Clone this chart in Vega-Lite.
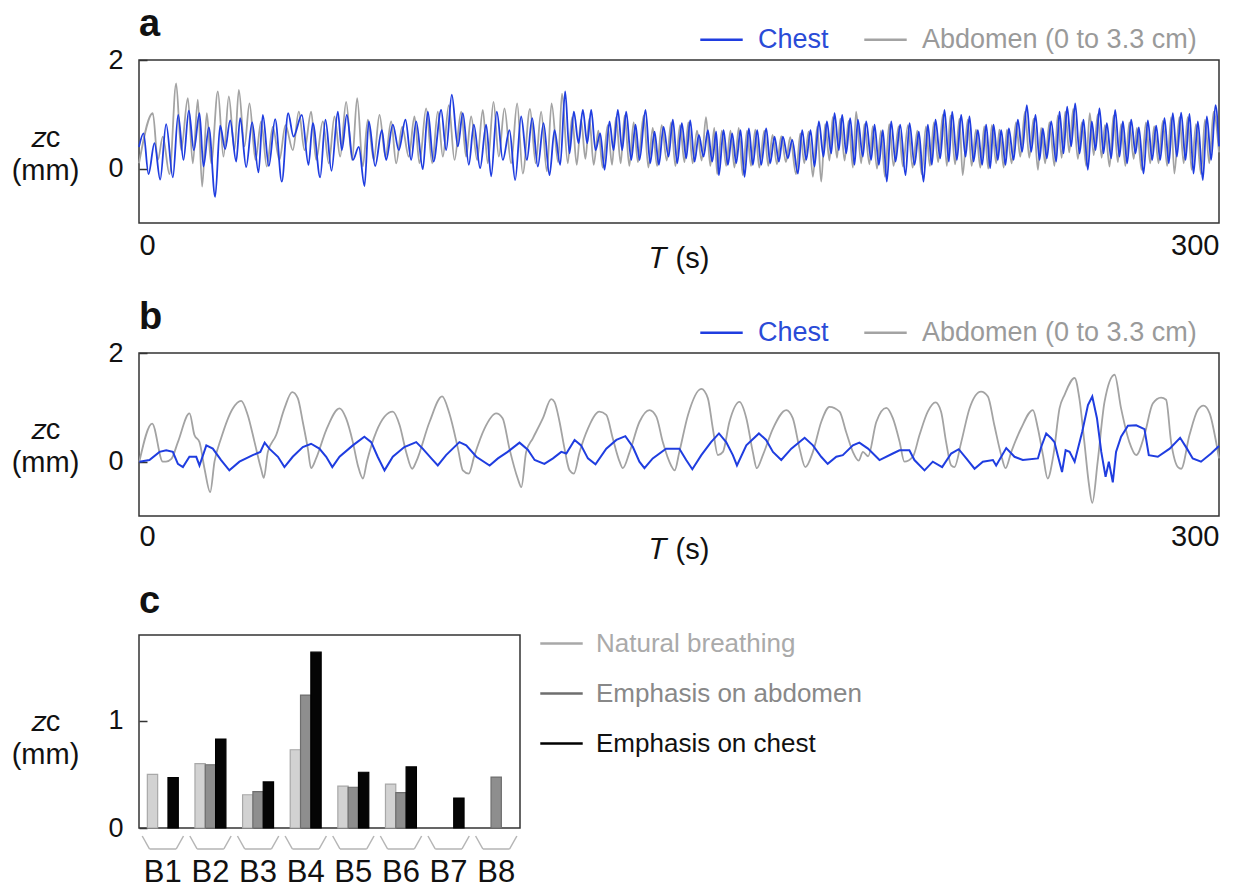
{
"$schema": "https://vega.github.io/schema/vega-lite/v6.json",
"background": "white",
"padding": {"left": 10, "top": 5, "right": 0, "bottom": 0},
"config": {
  "font": "Liberation Sans",
  "view": {"stroke": "#333", "strokeWidth": 1.5},
  "axis": {"grid": false, "domain": false, "labelFont": "Liberation Sans", "titleFont": "Liberation Sans", "labelColor": "#111", "titleColor": "#111", "titleFontWeight": "normal", "tickColor": "#333", "tickWidth": 1.5},
  "legend": {"labelFont": "Liberation Sans", "labelLimit": 500},
  "title": {"anchor": "start", "frame": "group", "fontSize": 38, "fontWeight": "bold", "color": "#111", "font": "Liberation Sans"}
},
"datasets": {
"aChest": [{"t":0,"v":0.40},{"t":1.25,"v":0.65},{"t":2.64,"v":-0.10},{"t":4.30,"v":0.47},{"t":5.88,"v":-0.20},{"t":7.54,"v":0.82},{"t":9.40,"v":-0.16},{"t":10.88,"v":0.99},{"t":12.36,"v":0.16},{"t":13.84,"v":1.07},{"t":15.23,"v":0.34},{"t":16.80,"v":1.02},{"t":17.91,"v":0.04},{"t":19.40,"v":0.76},{"t":21.16,"v":-0.52},{"t":22.54,"v":0.79},{"t":23.93,"v":0.36},{"t":25.32,"v":0.89},{"t":26.99,"v":0.13},{"t":28.10,"v":0.93},{"t":29.77,"v":0.03},{"t":31.43,"v":0.85},{"t":33.19,"v":-0.07},{"t":34.40,"v":0.99},{"t":36.06,"v":0.05},{"t":37.82,"v":0.91},{"t":39.67,"v":-0.24},{"t":41.43,"v":1.02},{"t":42.91,"v":0.59},{"t":45.23,"v":0.99},{"t":47.08,"v":0.07},{"t":48.28,"v":0.84},{"t":50.32,"v":-0.16},{"t":51.80,"v":0.90},{"t":53.47,"v":-0.04},{"t":55.23,"v":1.05},{"t":56.34,"v":0.34},{"t":57.73,"v":0.99},{"t":59.40,"v":0.16},{"t":61.06,"v":0.40},{"t":62.64,"v":-0.32},{"t":63.84,"v":0.87},{"t":65.60,"v":0.05},{"t":67.45,"v":0.71},{"t":68.65,"v":0.16},{"t":70.51,"v":0.81},{"t":72.17,"v":0.34},{"t":74.02,"v":0.90},{"t":75.60,"v":0.16},{"t":76.99,"v":0.87},{"t":78.84,"v":-0.01},{"t":80.23,"v":1.05},{"t":81.80,"v":0.13},{"t":83.93,"v":1.08},{"t":85.32,"v":0.34},{"t":86.89,"v":1.36},{"t":88.56,"v":0.41},{"t":89.95,"v":1.02},{"t":91.62,"v":0.07},{"t":93.01,"v":0.81},{"t":94.76,"v":0.01},{"t":96.43,"v":0.81},{"t":97.82,"v":-0.14},{"t":99.39,"v":1.05},{"t":101.06,"v":0.16},{"t":102.91,"v":0.71},{"t":104.49,"v":-0.21},{"t":106.15,"v":0.96},{"t":107.74,"v":0.16},{"t":109.22,"v":0.93},{"t":110.79,"v":0.04},{"t":112.37,"v":0.84},{"t":114.03,"v":-0.12},{"t":115.42,"v":0.71},{"t":117.00,"v":0.07},{"t":118.38,"v":1.42},{"t":119.59,"v":0.28},{"t":120.79,"v":1.05},{"t":122.09,"v":0.47},{"t":123.29,"v":1.08},{"t":124.50,"v":0.47},{"t":125.61,"v":1.08},{"t":126.81,"v":0.34},{"t":128.11,"v":0.65},{"t":129.31,"v":-0.02},{"t":130.70,"v":0.87},{"t":131.81,"v":0.34},{"t":133.01,"v":1.08},{"t":134.22,"v":0.34},{"t":135.33,"v":1.05},{"t":136.72,"v":0.16},{"t":137.92,"v":0.81},{"t":139.03,"v":0.16},{"t":140.70,"v":1.08},{"t":141.99,"v":0.10},{"t":143.20,"v":0.68},{"t":144.40,"v":0.07},{"t":145.70,"v":0.77},{"t":147.09,"v":0.22},{"t":148.29,"v":0.90},{"t":149.50,"v":0.10},{"t":150.79,"v":0.84},{"t":151.99,"v":0.19},{"t":153.11,"v":0.89},{"t":154.31,"v":0.13},{"t":155.51,"v":0.62},{"t":156.81,"v":0.22},{"t":158.01,"v":0.71},{"t":159.22,"v":0.13},{"t":160.33,"v":0.68},{"t":161.07,"v":-0.12},{"t":162.37,"v":0.71},{"t":163.57,"v":0.07},{"t":164.77,"v":0.65},{"t":165.88,"v":0.10},{"t":167.09,"v":0.71},{"t":168.20,"v":-0.15},{"t":169.40,"v":0.74},{"t":170.51,"v":0.07},{"t":171.72,"v":0.71},{"t":172.83,"v":0.07},{"t":174.22,"v":0.74},{"t":175.33,"v":0.10},{"t":176.53,"v":0.59},{"t":177.74,"v":0.13},{"t":178.85,"v":0.59},{"t":180.23,"v":0.19},{"t":181.44,"v":0.53},{"t":183.01,"v":-0.09},{"t":184.22,"v":0.71},{"t":185.33,"v":0.16},{"t":186.53,"v":0.71},{"t":187.64,"v":0.04},{"t":188.85,"v":0.87},{"t":190.14,"v":0.22},{"t":191.07,"v":0.87},{"t":192.27,"v":0.28},{"t":193.20,"v":1.02},{"t":194.40,"v":0.34},{"t":195.33,"v":0.99},{"t":196.44,"v":0.28},{"t":197.55,"v":0.93},{"t":198.75,"v":0.07},{"t":199.68,"v":0.90},{"t":201.07,"v":0.22},{"t":201.99,"v":0.87},{"t":203.38,"v":0.16},{"t":204.31,"v":0.81},{"t":205.51,"v":0.07},{"t":206.62,"v":0.71},{"t":207.73,"v":-0.24},{"t":208.94,"v":0.87},{"t":210.14,"v":0.13},{"t":211.44,"v":0.81},{"t":212.92,"v":-0.12},{"t":214.03,"v":0.84},{"t":215.42,"v":0.07},{"t":216.62,"v":0.68},{"t":217.92,"v":-0.24},{"t":219.12,"v":0.81},{"t":220.23,"v":0.07},{"t":221.25,"v":0.90},{"t":222.55,"v":0.19},{"t":223.75,"v":1.08},{"t":224.95,"v":0.13},{"t":225.88,"v":1.05},{"t":227.18,"v":0.16},{"t":228.38,"v":0.99},{"t":229.58,"v":0.22},{"t":230.69,"v":0.96},{"t":231.80,"v":0.13},{"t":233.01,"v":0.71},{"t":234.21,"v":0.07},{"t":235.32,"v":0.81},{"t":236.43,"v":0.01},{"t":237.36,"v":0.81},{"t":238.56,"v":0.16},{"t":239.49,"v":0.71},{"t":240.69,"v":0.07},{"t":241.62,"v":0.74},{"t":242.92,"v":0.16},{"t":244.12,"v":0.90},{"t":245.32,"v":0.31},{"t":246.62,"v":1.17},{"t":247.82,"v":0.31},{"t":249.03,"v":0.99},{"t":250.14,"v":0.16},{"t":251.06,"v":0.74},{"t":252.17,"v":0.19},{"t":253.38,"v":0.87},{"t":254.77,"v":0.13},{"t":255.69,"v":1.05},{"t":256.80,"v":0.28},{"t":257.82,"v":1.14},{"t":258.93,"v":0.41},{"t":260.05,"v":1.20},{"t":261.25,"v":0.28},{"t":262.36,"v":0.90},{"t":263.56,"v":-0.02},{"t":264.67,"v":0.87},{"t":265.69,"v":0.34},{"t":266.80,"v":1.11},{"t":267.91,"v":0.28},{"t":268.84,"v":0.84},{"t":270.04,"v":0.19},{"t":271.16,"v":1.08},{"t":272.36,"v":0.22},{"t":273.29,"v":0.87},{"t":274.49,"v":0.10},{"t":275.60,"v":0.90},{"t":276.80,"v":0.28},{"t":277.73,"v":0.76},{"t":279.03,"v":-0.09},{"t":280.23,"v":0.89},{"t":281.43,"v":0.16},{"t":282.54,"v":0.79},{"t":283.66,"v":0.16},{"t":284.86,"v":0.93},{"t":286.06,"v":0.10},{"t":287.17,"v":1.02},{"t":288.29,"v":0.22},{"t":289.49,"v":1.03},{"t":290.69,"v":0.16},{"t":291.80,"v":1.01},{"t":292.92,"v":-0.09},{"t":294.12,"v":0.87},{"t":295.51,"v":-0.21},{"t":296.62,"v":0.96},{"t":297.82,"v":0.16},{"t":299.03,"v":1.17},{"t":300.0,"v":0.41}],
"aAbd": [{"t":0,"v":0.10},{"t":3.84,"v":1.02},{"t":5.23,"v":0.16},{"t":6.62,"v":0.59},{"t":8.47,"v":-0.10},{"t":10.32,"v":1.57},{"t":11.71,"v":0.34},{"t":13.56,"v":1.30},{"t":14.95,"v":0.10},{"t":16.34,"v":1.27},{"t":17.54,"v":-0.33},{"t":18.84,"v":1.02},{"t":20.04,"v":0.10},{"t":21.90,"v":1.42},{"t":23.47,"v":0.22},{"t":24.95,"v":1.33},{"t":26.53,"v":0.34},{"t":27.73,"v":1.45},{"t":29.30,"v":0.41},{"t":30.69,"v":1.20},{"t":32.36,"v":0.16},{"t":33.93,"v":0.87},{"t":35.50,"v":0.04},{"t":37.17,"v":0.77},{"t":39.00,"v":0.16},{"t":40.69,"v":0.80},{"t":42.73,"v":0.34},{"t":44.40,"v":1.05},{"t":45.97,"v":0.34},{"t":47.82,"v":1.05},{"t":49.21,"v":0.16},{"t":51.06,"v":0.87},{"t":52.73,"v":0.10},{"t":54.30,"v":0.96},{"t":55.88,"v":0.22},{"t":57.54,"v":1.23},{"t":59.21,"v":0.16},{"t":60.60,"v":1.30},{"t":62.17,"v":0.04},{"t":63.56,"v":0.90},{"t":65.23,"v":0.16},{"t":66.80,"v":0.99},{"t":68.47,"v":0.22},{"t":70.04,"v":0.87},{"t":71.43,"v":0.10},{"t":73.10,"v":0.77},{"t":74.95,"v":0.22},{"t":76.52,"v":0.96},{"t":77.91,"v":0.10},{"t":79.76,"v":1.11},{"t":81.43,"v":0.10},{"t":83.00,"v":1.05},{"t":84.40,"v":0.22},{"t":86.06,"v":1.17},{"t":87.63,"v":0.16},{"t":89.49,"v":1.05},{"t":90.87,"v":0.22},{"t":92.26,"v":0.96},{"t":93.93,"v":0.16},{"t":95.50,"v":1.08},{"t":96.89,"v":0.10},{"t":98.47,"v":1.23},{"t":99.95,"v":0.22},{"t":101.52,"v":1.11},{"t":103.37,"v":0.10},{"t":105.04,"v":1.20},{"t":106.6,"v":-0.09},{"t":108.6,"v":1.10},{"t":110.2,"v":0.10},{"t":111.7,"v":1.05},{"t":113.3,"v":-0.05},{"t":114.6,"v":1.20},{"t":116.4,"v":0.12},{"t":117.5,"v":1.38},{"t":119.1,"v":0.10},{"t":120.3,"v":0.95},{"t":121.6,"v":0.07},{"t":122.8,"v":0.90},{"t":124.0,"v":0.18},{"t":125.1,"v":0.92},{"t":126.3,"v":0.07},{"t":127.6,"v":0.70},{"t":128.8,"v":0.02},{"t":130.2,"v":0.80},{"t":131.4,"v":0.07},{"t":132.5,"v":0.95},{"t":133.8,"v":0.10},{"t":134.9,"v":0.98},{"t":136.2,"v":0.05},{"t":137.4,"v":0.85},{"t":138.6,"v":0.12},{"t":140.2,"v":0.98},{"t":141.5,"v":0.02},{"t":142.7,"v":0.75},{"t":143.9,"v":0.05},{"t":145.2,"v":0.80},{"t":146.6,"v":0.15},{"t":147.8,"v":0.85},{"t":149.0,"v":0.05},{"t":150.3,"v":0.80},{"t":151.5,"v":0.12},{"t":152.6,"v":0.85},{"t":153.8,"v":0.10},{"t":155.0,"v":0.70},{"t":156.3,"v":0.15},{"t":157.5,"v":0.95},{"t":158.7,"v":0.05},{"t":159.8,"v":0.75},{"t":160.6,"v":-0.10},{"t":161.9,"v":0.70},{"t":163.1,"v":0.05},{"t":164.3,"v":0.70},{"t":165.4,"v":0.02},{"t":166.6,"v":0.75},{"t":167.7,"v":-0.12},{"t":168.9,"v":0.70},{"t":170.0,"v":0.05},{"t":171.2,"v":0.72},{"t":172.3,"v":0.02},{"t":173.7,"v":0.70},{"t":174.8,"v":0.05},{"t":176.0,"v":0.62},{"t":177.2,"v":0.08},{"t":178.4,"v":0.60},{"t":179.7,"v":0.12},{"t":180.9,"v":0.58},{"t":182.5,"v":-0.10},{"t":183.7,"v":0.65},{"t":184.8,"v":0.10},{"t":186.0,"v":0.68},{"t":187.2,"v":-0.15},{"t":188.4,"v":0.78},{"t":189.5,"v":-0.24},{"t":190.6,"v":0.82},{"t":191.8,"v":0.15},{"t":192.7,"v":0.95},{"t":193.9,"v":0.20},{"t":194.8,"v":0.92},{"t":196.0,"v":0.15},{"t":197.1,"v":0.88},{"t":198.3,"v":0.02},{"t":199.2,"v":1.05},{"t":200.6,"v":0.10},{"t":201.5,"v":0.82},{"t":202.9,"v":0.08},{"t":203.8,"v":0.78},{"t":205.0,"v":0.00},{"t":206.1,"v":0.70},{"t":207.2,"v":-0.15},{"t":208.4,"v":0.82},{"t":209.6,"v":0.05},{"t":211.0,"v":0.78},{"t":212.2,"v":0.04},{"t":213.6,"v":0.80},{"t":214.9,"v":0.02},{"t":216.2,"v":0.70},{"t":217.4,"v":-0.10},{"t":218.6,"v":0.78},{"t":219.7,"v":0.05},{"t":220.8,"v":0.85},{"t":222.0,"v":0.12},{"t":223.3,"v":1.00},{"t":224.4,"v":0.05},{"t":225.4,"v":0.98},{"t":226.7,"v":0.08},{"t":227.9,"v":0.92},{"t":228.8,"v":-0.12},{"t":230.2,"v":0.90},{"t":231.3,"v":0.05},{"t":232.5,"v":0.72},{"t":233.7,"v":0.02},{"t":234.8,"v":0.78},{"t":235.9,"v":0.00},{"t":236.9,"v":0.80},{"t":238.1,"v":0.10},{"t":239.0,"v":0.72},{"t":240.2,"v":0.02},{"t":241.1,"v":0.72},{"t":242.4,"v":0.10},{"t":243.6,"v":0.85},{"t":244.8,"v":0.22},{"t":246.1,"v":1.05},{"t":247.3,"v":0.20},{"t":248.5,"v":0.92},{"t":249.7,"v":-0.02},{"t":250.6,"v":0.75},{"t":251.7,"v":0.10},{"t":252.9,"v":0.85},{"t":254.3,"v":0.05},{"t":255.2,"v":0.98},{"t":256.3,"v":0.20},{"t":257.3,"v":1.05},{"t":258.4,"v":0.30},{"t":259.5,"v":1.10},{"t":260.8,"v":0.18},{"t":261.9,"v":0.85},{"t":263.1,"v":0.05},{"t":264.1,"v":1.02},{"t":265.2,"v":0.25},{"t":266.3,"v":1.00},{"t":267.4,"v":0.20},{"t":268.3,"v":0.80},{"t":269.6,"v":0.04},{"t":270.7,"v":0.98},{"t":271.9,"v":0.12},{"t":272.8,"v":0.82},{"t":274.0,"v":0.05},{"t":275.1,"v":0.85},{"t":276.3,"v":0.18},{"t":277.2,"v":0.75},{"t":278.5,"v":-0.02},{"t":279.7,"v":0.85},{"t":280.9,"v":0.10},{"t":282.0,"v":0.78},{"t":283.2,"v":0.10},{"t":284.4,"v":0.88},{"t":285.6,"v":0.05},{"t":286.7,"v":0.95},{"t":287.6,"v":-0.09},{"t":289.0,"v":0.95},{"t":290.2,"v":0.10},{"t":291.3,"v":0.95},{"t":292.4,"v":-0.02},{"t":293.6,"v":0.82},{"t":295.0,"v":-0.10},{"t":296.1,"v":0.90},{"t":297.3,"v":0.10},{"t":298.5,"v":1.05},{"t":300.0,"v":0.30}],
"bChest": [{"t":0.1,"v":0.0},{"t":2.9,"v":0.03},{"t":5.7,"v":0.18},{"t":7.55,"v":0.21},{"t":9.4,"v":0.18},{"t":10.8,"v":-0.04},{"t":12.2,"v":-0.10},{"t":14.0,"v":0.09},{"t":15.9,"v":0.09},{"t":16.8,"v":-0.07},{"t":18.7,"v":0.30},{"t":20.5,"v":0.24},{"t":22.8,"v":0.03},{"t":25.1,"v":-0.16},{"t":27.9,"v":0.0},{"t":31.6,"v":0.12},{"t":33.7,"v":0.18},{"t":34.9,"v":0.35},{"t":36.2,"v":0.24},{"t":38.6,"v":0.09},{"t":40.4,"v":-0.10},{"t":42.7,"v":0.09},{"t":45.5,"v":0.27},{"t":47.8,"v":0.33},{"t":50.1,"v":0.24},{"t":52.0,"v":0.09},{"t":53.7,"v":-0.10},{"t":55.7,"v":0.09},{"t":59.4,"v":0.30},{"t":62.6,"v":0.46},{"t":64.5,"v":0.36},{"t":66.3,"v":0.09},{"t":68.2,"v":-0.16},{"t":70.5,"v":0.09},{"t":73.7,"v":0.27},{"t":77.0,"v":0.36},{"t":78.8,"v":0.24},{"t":81.2,"v":0.06},{"t":83.0,"v":-0.07},{"t":85.3,"v":0.12},{"t":89.0,"v":0.36},{"t":90.9,"v":0.30},{"t":93.7,"v":0.09},{"t":97.4,"v":-0.07},{"t":99.7,"v":0.06},{"t":102.4,"v":0.18},{"t":105.7,"v":0.35},{"t":108.0,"v":0.22},{"t":109.9,"v":0.03},{"t":112.6,"v":-0.04},{"t":115.0,"v":0.06},{"t":117.3,"v":0.18},{"t":118.7,"v":0.15},{"t":121.0,"v":0.40},{"t":122.8,"v":0.30},{"t":124.7,"v":0.06},{"t":126.8,"v":-0.05},{"t":129.8,"v":0.24},{"t":132.6,"v":0.40},{"t":135.1,"v":0.47},{"t":137.2,"v":0.27},{"t":139.0,"v":0.0},{"t":140.4,"v":-0.12},{"t":142.7,"v":0.06},{"t":146.4,"v":0.24},{"t":148.3,"v":0.24},{"t":150.1,"v":0.24},{"t":152.0,"v":0.03},{"t":153.7,"v":-0.14},{"t":156.2,"v":0.12},{"t":158.9,"v":0.36},{"t":161.1,"v":0.52},{"t":163.1,"v":0.36},{"t":164.96,"v":0.12},{"t":166.1,"v":-0.07},{"t":168.7,"v":0.30},{"t":172.2,"v":0.52},{"t":174.2,"v":0.40},{"t":176.1,"v":0.18},{"t":178.4,"v":0.03},{"t":181.2,"v":0.24},{"t":184.9,"v":0.44},{"t":187.2,"v":0.30},{"t":189.5,"v":0.09},{"t":191.3,"v":-0.04},{"t":193.7,"v":0.09},{"t":195.5,"v":0.12},{"t":198.3,"v":0.30},{"t":200.1,"v":0.35},{"t":202.5,"v":0.24},{"t":205.7,"v":0.03},{"t":209.4,"v":0.15},{"t":211.25,"v":0.21},{"t":214.0,"v":0.21},{"t":215.4,"v":0.03},{"t":218.2,"v":-0.16},{"t":220.5,"v":0.0},{"t":223.1,"v":-0.10},{"t":225.6,"v":0.15},{"t":227.7,"v":0.23},{"t":229.8,"v":0.06},{"t":232.1,"v":-0.13},{"t":234.4,"v":0.0},{"t":237.2,"v":0.03},{"t":238.1,"v":-0.07},{"t":240.9,"v":0.25},{"t":243.2,"v":0.09},{"t":245.5,"v":0.03},{"t":249.7,"v":0.06},{"t":250.6,"v":0.27},{"t":252.0,"v":0.52},{"t":253.4,"v":0.43},{"t":254.3,"v":0.36},{"t":255.2,"v":0.12},{"t":256.4,"v":-0.19},{"t":257.4,"v":0.21},{"t":258.5,"v":0.18},{"t":259.9,"v":0.0},{"t":262.0,"v":0.55},{"t":263.6,"v":1.04},{"t":264.8,"v":1.20},{"t":266.1,"v":0.80},{"t":267.3,"v":0.18},{"t":268.5,"v":-0.28},{"t":269.4,"v":0.0},{"t":270.5,"v":-0.38},{"t":271.4,"v":0.18},{"t":272.8,"v":0.46},{"t":274.7,"v":0.66},{"t":277.0,"v":0.67},{"t":279.3,"v":0.60},{"t":280.5,"v":0.12},{"t":283.0,"v":0.09},{"t":286.3,"v":0.24},{"t":289.2,"v":0.44},{"t":291.1,"v":0.24},{"t":292.7,"v":0.06},{"t":295.0,"v":0.0},{"t":297.8,"v":0.15},{"t":300.0,"v":0.29}],
"bAbd": [{"t":0.1,"v":0.0},{"t":3.66,"v":0.70},{"t":6.62,"v":0.0},{"t":7.5,"v":0.0},{"t":9.0,"v":0.05},{"t":10.8,"v":0.36},{"t":14.03,"v":0.89},{"t":15.4,"v":0.49},{"t":16.8,"v":0.36},{"t":18.2,"v":-0.13},{"t":19.77,"v":-0.56},{"t":20.97,"v":0.0},{"t":22.8,"v":0.43},{"t":26.06,"v":0.98},{"t":28.38,"v":1.12},{"t":30.2,"v":0.86},{"t":32.1,"v":0.36},{"t":33.9,"v":-0.13},{"t":34.67,"v":-0.30},{"t":35.8,"v":0.18},{"t":38.1,"v":0.49},{"t":40.4,"v":0.98},{"t":42.54,"v":1.28},{"t":44.1,"v":1.17},{"t":45.5,"v":0.73},{"t":46.9,"v":0.24},{"t":47.8,"v":-0.12},{"t":49.2,"v":0.06},{"t":52.0,"v":0.58},{"t":55.7,"v":0.98},{"t":57.5,"v":0.80},{"t":59.4,"v":0.36},{"t":60.8,"v":-0.07},{"t":62.2,"v":-0.31},{"t":63.3,"v":0.0},{"t":65.9,"v":0.55},{"t":70.5,"v":0.92},{"t":72.4,"v":0.67},{"t":74.2,"v":0.18},{"t":75.9,"v":-0.13},{"t":77.0,"v":0.0},{"t":80.7,"v":0.73},{"t":84.2,"v":1.20},{"t":86.2,"v":0.89},{"t":88.6,"v":0.24},{"t":89.96,"v":-0.16},{"t":91.6,"v":-0.22},{"t":93.2,"v":0.12},{"t":95.97,"v":0.61},{"t":99.2,"v":0.89},{"t":101.0,"v":0.80},{"t":102.9,"v":0.24},{"t":105.2,"v":-0.31},{"t":106.2,"v":-0.47},{"t":107.55,"v":0.18},{"t":109.4,"v":0.43},{"t":112.2,"v":0.80},{"t":114.5,"v":1.15},{"t":115.4,"v":1.10},{"t":116.8,"v":0.74},{"t":118.2,"v":0.24},{"t":119.6,"v":-0.16},{"t":120.8,"v":-0.22},{"t":122.4,"v":0.18},{"t":124.7,"v":0.61},{"t":127.9,"v":0.92},{"t":129.8,"v":0.86},{"t":131.6,"v":0.43},{"t":133.5,"v":0.0},{"t":134.4,"v":-0.12},{"t":136.3,"v":0.18},{"t":139.0,"v":0.73},{"t":141.8,"v":0.95},{"t":143.7,"v":0.83},{"t":145.5,"v":0.36},{"t":147.8,"v":-0.07},{"t":148.8,"v":-0.16},{"t":150.1,"v":0.18},{"t":152.5,"v":0.86},{"t":156.2,"v":1.34},{"t":158.0,"v":1.17},{"t":159.4,"v":0.61},{"t":160.8,"v":0.12},{"t":162.2,"v":0.18},{"t":164.0,"v":0.73},{"t":166.8,"v":1.10},{"t":168.7,"v":0.80},{"t":170.5,"v":0.18},{"t":171.6,"v":-0.12},{"t":173.3,"v":0.12},{"t":176.1,"v":0.61},{"t":179.8,"v":0.95},{"t":181.6,"v":0.80},{"t":183.5,"v":0.24},{"t":185.1,"v":-0.10},{"t":187.2,"v":0.18},{"t":189.5,"v":0.73},{"t":191.8,"v":1.01},{"t":194.6,"v":0.92},{"t":196.4,"v":0.55},{"t":198.3,"v":0.18},{"t":199.9,"v":0.02},{"t":201.1,"v":0.18},{"t":202.5,"v":0.10},{"t":204.8,"v":0.73},{"t":207.6,"v":0.99},{"t":209.4,"v":0.80},{"t":211.3,"v":0.36},{"t":212.6,"v":0.0},{"t":214.95,"v":0.09},{"t":216.8,"v":0.49},{"t":219.1,"v":0.92},{"t":221.25,"v":1.09},{"t":222.8,"v":0.92},{"t":224.2,"v":0.36},{"t":225.6,"v":-0.07},{"t":226.5,"v":-0.10},{"t":228.4,"v":0.36},{"t":230.7,"v":0.98},{"t":233.9,"v":1.29},{"t":235.8,"v":1.20},{"t":237.6,"v":0.67},{"t":239.5,"v":0.12},{"t":240.7,"v":-0.12},{"t":242.3,"v":0.18},{"t":245.0,"v":0.61},{"t":248.3,"v":0.95},{"t":249.7,"v":0.61},{"t":251.1,"v":0.12},{"t":252.4,"v":-0.31},{"t":254.0,"v":0.12},{"t":255.7,"v":0.98},{"t":257.1,"v":1.23},{"t":259.9,"v":1.54},{"t":261.2,"v":1.17},{"t":262.6,"v":0.36},{"t":263.8,"v":-0.38},{"t":264.8,"v":-0.76},{"t":266.3,"v":0.0},{"t":268.2,"v":1.10},{"t":271.0,"v":1.60},{"t":272.8,"v":0.98},{"t":275.1,"v":0.36},{"t":277.0,"v":0.12},{"t":279.3,"v":0.49},{"t":281.6,"v":1.07},{"t":283.9,"v":1.18},{"t":285.3,"v":1.14},{"t":286.7,"v":0.36},{"t":288.6,"v":-0.10},{"t":289.5,"v":-0.13},{"t":291.8,"v":0.49},{"t":294.1,"v":0.95},{"t":295.7,"v":1.03},{"t":297.4,"v":0.89},{"t":299.2,"v":0.36},{"t":300.0,"v":0.06}],
"bars": [{"grp":"B1","cond":"Natural breathing","v":0.50},{"grp":"B1","cond":"Emphasis on chest","v":0.47},{"grp":"B2","cond":"Natural breathing","v":0.60},{"grp":"B2","cond":"Emphasis on abdomen","v":0.59},{"grp":"B2","cond":"Emphasis on chest","v":0.83},{"grp":"B3","cond":"Natural breathing","v":0.31},{"grp":"B3","cond":"Emphasis on abdomen","v":0.34},{"grp":"B3","cond":"Emphasis on chest","v":0.43},{"grp":"B4","cond":"Natural breathing","v":0.73},{"grp":"B4","cond":"Emphasis on abdomen","v":1.24},{"grp":"B4","cond":"Emphasis on chest","v":1.64},{"grp":"B5","cond":"Natural breathing","v":0.39},{"grp":"B5","cond":"Emphasis on abdomen","v":0.38},{"grp":"B5","cond":"Emphasis on chest","v":0.52},{"grp":"B6","cond":"Natural breathing","v":0.41},{"grp":"B6","cond":"Emphasis on abdomen","v":0.33},{"grp":"B6","cond":"Emphasis on chest","v":0.57},{"grp":"B7","cond":"Emphasis on chest","v":0.28},{"grp":"B8","cond":"Emphasis on abdomen","v":0.475}],
"grps": [{"grp":"B1"},{"grp":"B2"},{"grp":"B3"},{"grp":"B4"},{"grp":"B5"},{"grp":"B6"},{"grp":"B7"},{"grp":"B8"}]
},
"spacing": 17,
"resolve": {"scale": {"color": "independent", "stroke": "independent", "x": "independent", "y": "independent"}, "legend": {"color": "independent", "stroke": "independent"}},
"vconcat": [
{
"spacing": 24,
"resolve": {"scale": {"color": "independent", "x": "independent", "y": "independent"}, "legend": {"color": "independent"}},
"vconcat": [
{
  "title": {"text": "a", "dx": 0, "offset": -27},
  "width": 1080, "height": 163,
  "layer": [
    {"data": {"name": "aAbd"}, "mark": {"type": "line", "strokeWidth": 1.8, "interpolate": "monotone"},
     "encoding": {
       "x": {"field": "t", "type": "quantitative", "scale": {"domain": [0, 300], "nice": false}, "axis": {"values": [0, 300], "format": "d", "labelFlush": true, "ticks": false, "labelFontSize": 29, "labelPadding": 8, "title": "𝑇 (s)", "titleFontSize": 29, "titlePadding": -16}},
       "y": {"field": "v", "type": "quantitative", "scale": {"domain": [-1, 2], "nice": false}, "axis": {"values": [0, 2], "format": "d", "tickSize": -8, "labelFontSize": 27, "labelPadding": 24, "title": ["𝑧ᴄ", "(mm)"], "titleAngle": 0, "titleFontSize": 29, "titleAlign": "center", "titleBaseline": "middle", "titleLineHeight": 33, "titleX": -94, "titleY": 77}},
       "color": {"datum": "Abdomen (0 to 3.3 cm)", "type": "nominal", "scale": {"domain": ["Chest", "Abdomen (0 to 3.3 cm)"], "range": ["#1f3de0", "#a3a3a3"]},
         "legend": {"title": null, "orient": "none", "legendX": 560, "legendY": -43, "direction": "horizontal", "symbolType": "stroke", "symbolSize": 1800, "symbolStrokeWidth": 2.5, "labelFontSize": 27, "labelOffset": 14, "columnPadding": 30, "encode": {"labels": {"update": {"fill": {"signal": "datum.label === 'Chest' ? '#2a4bd7' : '#9a9a9a'"}}}}}}
     }},
    {"data": {"name": "aChest"}, "mark": {"type": "line", "strokeWidth": 1.8, "interpolate": "monotone"},
     "encoding": {
       "x": {"field": "t", "type": "quantitative"},
       "y": {"field": "v", "type": "quantitative"},
       "color": {"datum": "Chest", "type": "nominal"}
     }}
  ]
},
{
  "title": {"text": "b", "dx": 0, "offset": -27},
  "width": 1080, "height": 163,
  "layer": [
    {"data": {"name": "bAbd"}, "mark": {"type": "line", "strokeWidth": 1.8, "interpolate": "monotone"},
     "encoding": {
       "x": {"field": "t", "type": "quantitative", "scale": {"domain": [0, 300], "nice": false}, "axis": {"values": [0, 300], "format": "d", "labelFlush": true, "ticks": false, "labelFontSize": 29, "labelPadding": 6, "title": "𝑇 (s)", "titleFontSize": 29, "titlePadding": -16}},
       "y": {"field": "v", "type": "quantitative", "scale": {"domain": [-1, 2], "nice": false}, "axis": {"values": [0, 2], "format": "d", "tickSize": -8, "labelFontSize": 27, "labelPadding": 24, "title": ["𝑧ᴄ", "(mm)"], "titleAngle": 0, "titleFontSize": 29, "titleAlign": "center", "titleBaseline": "middle", "titleLineHeight": 33, "titleX": -94, "titleY": 76}},
       "color": {"datum": "Abdomen (0 to 3.3 cm)", "type": "nominal", "scale": {"domain": ["Chest", "Abdomen (0 to 3.3 cm)"], "range": ["#1f3de0", "#a3a3a3"]},
         "legend": {"title": null, "orient": "none", "legendX": 560, "legendY": -43, "direction": "horizontal", "symbolType": "stroke", "symbolSize": 1800, "symbolStrokeWidth": 2.5, "labelFontSize": 27, "labelOffset": 14, "columnPadding": 30, "encode": {"labels": {"update": {"fill": {"signal": "datum.label === 'Chest' ? '#2a4bd7' : '#9a9a9a'"}}}}}}
     }},
    {"data": {"name": "bChest"}, "mark": {"type": "line", "strokeWidth": 2},
     "encoding": {
       "x": {"field": "t", "type": "quantitative"},
       "y": {"field": "v", "type": "quantitative"},
       "color": {"datum": "Chest", "type": "nominal"}
     }}
  ]
}
]
},
{
  "title": {"text": "c", "dx": 0, "offset": 0},
  "width": 381, "height": 193,
  "layer": [
    {"data": {"name": "bars"}, "mark": {"type": "bar", "strokeWidth": 1.2},
     "encoding": {
       "x": {"field": "grp", "type": "nominal", "sort": ["B1","B2","B3","B4","B5","B6","B7","B8"], "scale": {"paddingInner": 0.35, "paddingOuter": 0.175}, "axis": {"title": null, "ticks": false, "labelAngle": 0, "labelFontSize": 31, "labelPadding": 29}},
       "xOffset": {"field": "cond", "type": "nominal", "scale": {"domain": ["Natural breathing", "Emphasis on abdomen", "Emphasis on chest"], "paddingInner": 0, "paddingOuter": 0}},
       "y": {"field": "v", "type": "quantitative", "scale": {"domain": [0, 1.8], "nice": false}, "axis": {"values": [0, 1], "format": "d", "tickSize": -8, "labelFontSize": 27, "labelPadding": 24, "title": ["𝑧ᴄ", "(mm)"], "titleAngle": 0, "titleFontSize": 29, "titleAlign": "center", "titleBaseline": "middle", "titleLineHeight": 33, "titleX": -94, "titleY": 86}},
       "color": {"field": "cond", "type": "nominal", "scale": {"domain": ["Natural breathing", "Emphasis on abdomen", "Emphasis on chest"], "range": ["#d2d2d2", "#8e8e8e", "#050505"]},
         "legend": {"title": null, "orient": "none", "legendX": 400, "legendY": -14, "direction": "vertical", "symbolType": "stroke", "symbolSize": 1800, "symbolStrokeWidth": 2.5, "labelFontSize": 26, "labelOffset": 12, "rowPadding": 14, "encode": {"labels": {"update": {"fill": {"signal": "datum.label === 'Natural breathing' ? '#aaaaaa' : datum.label === 'Emphasis on abdomen' ? '#888888' : '#111111'"}}}}}},
       "stroke": {"field": "cond", "type": "nominal", "scale": {"domain": ["Natural breathing", "Emphasis on abdomen", "Emphasis on chest"], "range": ["#a8a8a8", "#6e6e6e", "#000000"]},
         "legend": {"title": null, "orient": "none", "legendX": 400, "legendY": -14, "direction": "vertical", "symbolType": "stroke", "symbolSize": 1800, "symbolStrokeWidth": 2.5, "labelFontSize": 26, "labelOffset": 12, "rowPadding": 14, "encode": {"labels": {"update": {"fill": {"signal": "datum.label === 'Natural breathing' ? '#aaaaaa' : datum.label === 'Emphasis on abdomen' ? '#888888' : '#111111'"}}}}}}
     }},
    {"data": {"name": "grps"}, "mark": {"type": "rule", "color": "#b5b5b5", "strokeWidth": 1.5, "xOffset": -20.6, "x2Offset": -13.3, "yOffset": 8, "y2Offset": 21},
     "encoding": {"x": {"field": "grp", "type": "nominal"}, "x2": {"field": "grp"}, "y": {"datum": 0}, "y2": {"datum": 0}}},
    {"data": {"name": "grps"}, "mark": {"type": "rule", "color": "#b5b5b5", "strokeWidth": 1.5, "xOffset": -13.3, "x2Offset": 13.4, "yOffset": 21, "y2Offset": 21},
     "encoding": {"x": {"field": "grp", "type": "nominal"}, "x2": {"field": "grp"}, "y": {"datum": 0}, "y2": {"datum": 0}}},
    {"data": {"name": "grps"}, "mark": {"type": "rule", "color": "#b5b5b5", "strokeWidth": 1.5, "xOffset": 13.4, "x2Offset": 20.7, "yOffset": 21, "y2Offset": 8},
     "encoding": {"x": {"field": "grp", "type": "nominal"}, "x2": {"field": "grp"}, "y": {"datum": 0}, "y2": {"datum": 0}}}
  ]
}
]
}
